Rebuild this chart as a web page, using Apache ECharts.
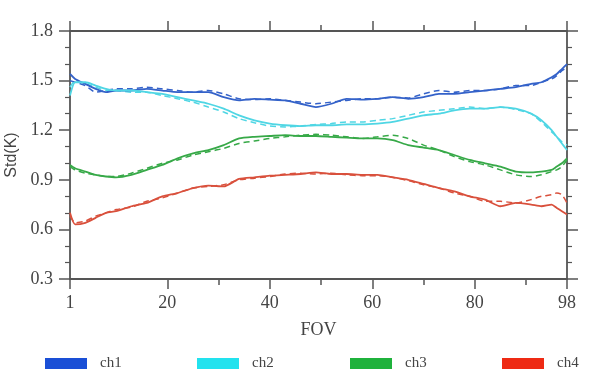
<!DOCTYPE html>
<html>
<head>
<meta charset="utf-8">
<script src="https://cdn.jsdelivr.net/npm/echarts@6/dist/echarts.min.js"></script>
<style>html,body{margin:0;padding:0;background:#fff}#c{width:593px;height:374px}</style>
</head>
<body>
<div id="c"></div>
<script>
var fov = [1,2,4,6,8,10,13,16,19,22,25,28,31,34,37,40,43,46,49,52,55,58,61,64,67,70,73,76,79,82,85,88,91,93,95,96,97,98];
var ch1 = [1.54,1.51,1.48,1.45,1.43,1.44,1.44,1.45,1.44,1.43,1.43,1.43,1.40,1.38,1.39,1.385,1.38,1.36,1.34,1.36,1.39,1.385,1.39,1.40,1.39,1.40,1.42,1.42,1.43,1.44,1.45,1.46,1.48,1.49,1.52,1.54,1.57,1.60];
var ch1b = [1.50,1.49,1.47,1.43,1.44,1.45,1.45,1.46,1.45,1.44,1.43,1.44,1.42,1.39,1.385,1.39,1.38,1.37,1.36,1.37,1.38,1.39,1.39,1.40,1.395,1.42,1.44,1.43,1.44,1.44,1.45,1.47,1.47,1.49,1.51,1.53,1.56,1.58];
var ch2 = [1.41,1.49,1.49,1.47,1.45,1.44,1.44,1.43,1.42,1.40,1.38,1.36,1.33,1.29,1.26,1.24,1.23,1.225,1.23,1.23,1.235,1.235,1.24,1.25,1.27,1.29,1.30,1.32,1.33,1.33,1.34,1.33,1.30,1.26,1.20,1.16,1.12,1.08];
var ch2b = [1.46,1.50,1.48,1.46,1.44,1.44,1.43,1.43,1.41,1.39,1.37,1.34,1.31,1.27,1.245,1.225,1.22,1.225,1.235,1.24,1.25,1.25,1.26,1.27,1.29,1.31,1.32,1.33,1.34,1.33,1.34,1.325,1.30,1.25,1.19,1.16,1.13,1.11];
var ch3 = [0.99,0.97,0.95,0.93,0.92,0.915,0.93,0.96,0.99,1.03,1.06,1.08,1.11,1.15,1.16,1.165,1.17,1.165,1.165,1.16,1.155,1.15,1.15,1.14,1.11,1.095,1.08,1.05,1.02,1.00,0.98,0.95,0.945,0.95,0.96,0.98,1.00,1.03];
var ch3b = [0.98,0.96,0.94,0.93,0.92,0.92,0.94,0.97,1.00,1.02,1.05,1.07,1.09,1.12,1.135,1.15,1.16,1.17,1.175,1.17,1.16,1.15,1.16,1.17,1.15,1.11,1.08,1.04,1.01,0.99,0.96,0.93,0.92,0.93,0.95,0.96,0.98,1.02];
var ch4 = [0.70,0.63,0.64,0.67,0.70,0.71,0.74,0.76,0.80,0.82,0.85,0.865,0.86,0.905,0.915,0.925,0.93,0.935,0.945,0.935,0.935,0.93,0.93,0.915,0.90,0.875,0.85,0.83,0.80,0.78,0.74,0.76,0.75,0.74,0.75,0.73,0.71,0.69];
var ch4b = [0.68,0.64,0.65,0.68,0.70,0.72,0.735,0.77,0.79,0.82,0.85,0.86,0.87,0.90,0.91,0.92,0.935,0.94,0.935,0.94,0.93,0.925,0.925,0.915,0.895,0.87,0.85,0.82,0.80,0.77,0.77,0.76,0.78,0.80,0.81,0.82,0.81,0.76];
var names = ['ch1','ch2','ch3','ch4'];
var xLabels = [1,20,40,60,80,98];
var xMinor = [30,50,70,90];

var lineColors = ['#3462c9','#4fd6e4','#37a948','#d9503c'];
var legendColors = ['#1a4fd6','#22e2ee','#1fb23c','#ee2a14'];
var solid = [ch1,ch2,ch3,ch4];
var dashed = [ch1b,ch2b,ch3b,ch4b];

function pairs(ys){ return fov.map(function(f,i){ return [f, ys[i]]; }); }

var series = [];
for (var i = 0; i < 4; i++) {
  series.push({name: names[i], type:'line', data: pairs(solid[i]), showSymbol:false, symbol:'none',
    lineStyle:{color: lineColors[i], width:1.8}, itemStyle:{color: lineColors[i]}, smooth:0.2, z:3});
  series.push({name: names[i]+' b', type:'line', data: pairs(dashed[i]), showSymbol:false, symbol:'none',
    lineStyle:{color: lineColors[i], width:1.5, type:[6,4]}, itemStyle:{color: lineColors[i]}, smooth:0.2, z:2});
}

var axCol = '#555';
var serif = 'Liberation Serif';
function xAx(pos, vals, len, showLine, showLabel) {
  return {type:'value', min:1, max:98, position:pos,
    axisLine:{show:showLine, lineStyle:{color:axCol, width:1.8}},
    axisTick:{show:true, customValues: vals, length:len, inside:false, lineStyle:{color:axCol, width:1.5}},
    axisLabel:{show:showLabel, customValues: vals, color:'#444', fontFamily:serif, fontSize:18, margin:15},
    splitLine:{show:false},
    name: (pos==='bottom' && showLabel) ? 'FOV' : '', nameLocation:'middle', nameGap:42,
    nameTextStyle:{fontFamily:serif, fontSize:18, color:'#444'}};
}
function yAx(pos, showLabel) {
  return {type:'value', min:0.3, max:1.8, interval:0.3, position:pos,
    axisLine:{show:true, lineStyle:{color:axCol, width:1.8}},
    axisTick:{show:true, length:11, lineStyle:{color:axCol, width:1.5}},
    minorTick:{show:true, splitNumber:3, length:5, lineStyle:{color:axCol, width:1.2}},
    axisLabel:{show:showLabel, color:'#444', fontFamily:serif, fontSize:18, margin:17,
      formatter:function(v){return v.toFixed(1);}},
    splitLine:{show:false},
    name: showLabel ? 'Std(K)' : '', nameLocation:'middle', nameGap:48, nameRotate:90,
    nameTextStyle:{fontFamily:'Liberation Sans', fontSize:16, color:'#444'}};
}

var legendLefts = [40,192,345,497];
var legends = names.map(function(n,i){
  return {data:[{name:n, itemStyle:{color: legendColors[i]}}], left: legendLefts[i], top:351,
    icon:'rect', itemWidth:42, itemHeight:11,
    textStyle:{fontFamily:serif, fontSize:15, color:'#444', padding:[0,0,0,8]}, selectedMode:false};
});

var chart = echarts.init(document.getElementById('c'), null, {renderer:'canvas'});
chart.setOption({
  animation:false,
  backgroundColor:'#fff',
  grid:{left:70, right:26, top:31, bottom:95, containLabel:false, outerBoundsMode:'none'},
  legend: legends,
  xAxis:[
    xAx('bottom', xLabels, 10, true, true),
    xAx('bottom', xMinor, 6, false, false),
    xAx('top', xLabels, 10, true, false),
    xAx('top', xMinor, 6, false, false)
  ],
  yAxis:[ yAx('left', true), yAx('right', false) ],
  series: series
});
</script>
</body>
</html>
